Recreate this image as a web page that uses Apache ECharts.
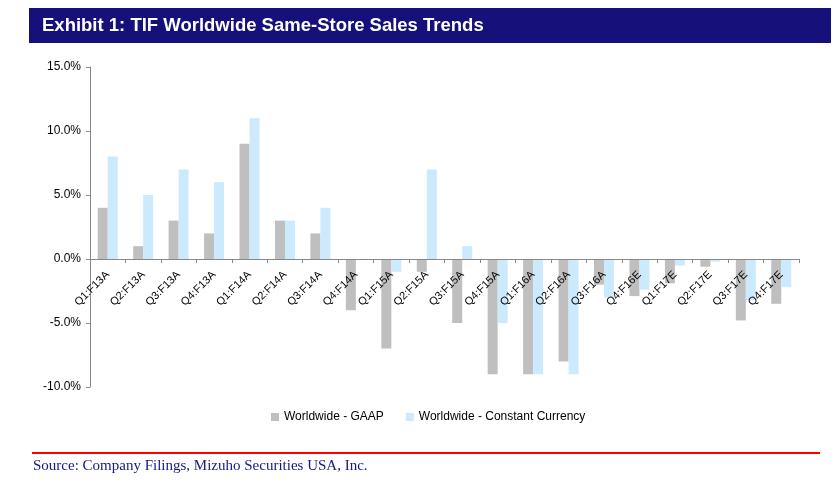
<!DOCTYPE html>
<html>
<head>
<meta charset="utf-8">
<script src="https://cdn.jsdelivr.net/npm/echarts@6/dist/echarts.min.js"></script>
<style>
html,body{margin:0;padding:0;background:#fff;}
#c{width:840px;height:490px;}
</style>
</head>
<body>
<div id="c"></div>
<script>
const categories = ['Q1:F13A','Q2:F13A','Q3:F13A','Q4:F13A','Q1:F14A','Q2:F14A','Q3:F14A','Q4:F14A',
  'Q1:F15A','Q2:F15A','Q3:F15A','Q4:F15A','Q1:F16A','Q2:F16A','Q3:F16A','Q4:F16E',
  'Q1:F17E','Q2:F17E','Q3:F17E','Q4:F17E'];
const gaap = [4, 1, 3, 2, 9, 3, 2, -4, -7, -1, -5, -9, -9, -8, -2, -2.9, -1.9, -0.6, -4.8, -3.5];
const constantCurrency = [8, 5, 7, 6, 11, 3, 4, 0, -1, 7, 1, -5, -9, -9, -3, -2.4, -0.5, -0.2, -3.2, -2.2];
const seriesNames = ['Worldwide - GAAP', 'Worldwide - Constant Currency'];
const titleText = 'Exhibit 1: TIF Worldwide Same-Store Sales Trends';
const sourceText = 'Source: Company Filings, Mizuho Securities USA, Inc.';

const chart = echarts.init(document.getElementById('c'), null, {renderer: 'canvas'});
chart.setOption({
  animation: false,
  backgroundColor: '#ffffff',
  grid: {left: 90, right: 41, top: 67, bottom: 103, containLabel: false},
  legend: {
    data: seriesNames,
    left: 266, top: 406,
    icon: 'rect', itemWidth: 8, itemHeight: 8, itemGap: 22,
    textStyle: {fontFamily: 'Liberation Sans', fontSize: 12, color: '#000'}
  },
  xAxis: {
    type: 'category', data: categories,
    position: 'bottom', offset: -128, z: 10,
    axisLine: {onZero: false, lineStyle: {color: '#888', width: 1}},
    axisTick: {show: true, length: 4, lineStyle: {color: '#888'}},
    axisLabel: {rotate: 45, interval: 0, margin: 14, fontFamily: 'Liberation Sans', fontSize: 11, color: '#000'}
  },
  yAxis: {
    type: 'value', min: -10, max: 15, interval: 5,
    splitLine: {show: false},
    axisLine: {show: true, lineStyle: {color: '#888', width: 1}},
    axisTick: {show: true, length: 4, lineStyle: {color: '#888'}},
    axisLabel: {formatter: v => v.toFixed(1) + '%', margin: 9, fontFamily: 'Liberation Sans', fontSize: 12, color: '#000'}
  },
  series: [
    {name: seriesNames[0], type: 'bar', data: gaap, barWidth: 10, barGap: '0%', z: 2, itemStyle: {color: '#bfbfbf'}},
    {name: seriesNames[1], type: 'bar', data: constantCurrency, barWidth: 10, z: 2, itemStyle: {color: '#cceafd'}}
  ],
  graphic: [
    {type: 'rect', shape: {x: 29, y: 8, width: 802, height: 35}, style: {fill: '#15107a'}},
    {type: 'text', left: 42, top: 16, style: {text: titleText, fill: '#fff', font: 'bold 18.5px "Liberation Sans", sans-serif'}},
    {type: 'rect', z: 100, shape: {x: 32, y: 452, width: 788, height: 2}, style: {fill: 'rgb(255,0,0)', stroke: null}},
    {type: 'text', left: 33, top: 459, style: {text: sourceText, fill: '#1a1780', font: '15px "Liberation Serif", serif'}}
  ]
});
</script>
</body>
</html>
